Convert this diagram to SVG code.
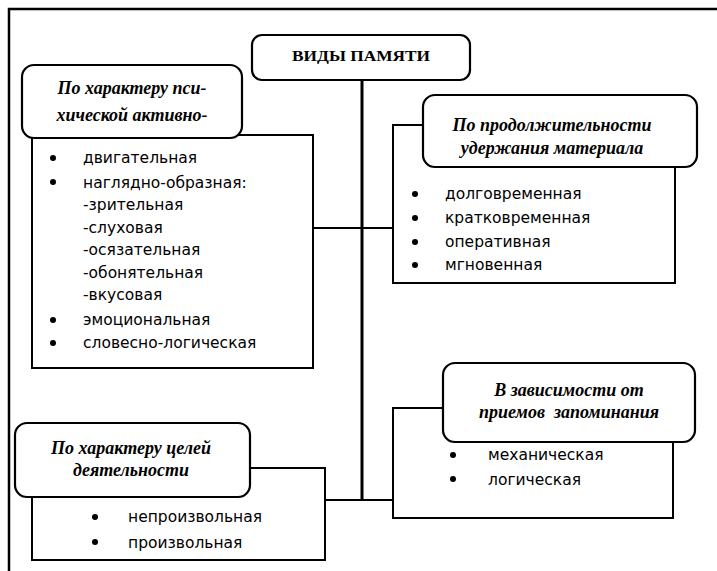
<svg xmlns="http://www.w3.org/2000/svg" width="717" height="571" viewBox="0 0 717 571">
<style>
.frame{stroke:#000;stroke-width:2.5;fill:none}
.rect{fill:#fff;stroke:#000;stroke-width:2}
.rbox{fill:#fff;stroke:#000;stroke-width:2.2}
.conn{stroke:#000;stroke-width:2;fill:none}
.title{font-family:"Liberation Serif",serif;font-weight:bold;font-size:14px;fill:#000}
.head{font-family:"Liberation Serif",serif;font-weight:bold;font-style:italic;font-size:18px;fill:#000;text-anchor:middle}
.item{font-family:"DejaVu Sans","Liberation Sans",sans-serif;font-size:15.5px;fill:#000}
.dot{fill:#000}
</style>
<rect width="717" height="571" fill="#fff"/>
<path class="frame" d="M9,571 V9 H717"/>
<g id="connectors">
<path class="conn" d="M362,80 V500" style="stroke-width:3"/>
<path class="conn" d="M313,228 H393"/>
<path class="conn" d="M326,500 H393"/>
</g>
<g id="root">
<rect class="rbox" x="252" y="35" width="218" height="45" rx="10"/>
<text class="title" x="361" y="61" text-anchor="middle" textLength="138" lengthAdjust="spacingAndGlyphs">ВИДЫ ПАМЯТИ</text>
</g>
<g id="activity">
<rect class="rect" x="32" y="135" width="281" height="233"/>
<rect class="rbox" x="22" y="65" width="220" height="73" rx="12"/>
<text class="head" x="132" y="94">По характеру пси-</text>
<text class="head" x="132" y="121">хической активно-</text>
<g class="dot"><circle cx="53" cy="158" r="3"/><circle cx="53" cy="182" r="3"/><circle cx="53" cy="320" r="3"/><circle cx="53" cy="343" r="3"/></g>
<text class="item" x="83" y="163">двигательная</text>
<text class="item" x="83" y="188">наглядно-образная:</text>
<text class="item" x="83" y="210">-зрительная</text>
<text class="item" x="83" y="233">-слуховая</text>
<text class="item" x="83" y="255">-осязательная</text>
<text class="item" x="83" y="278">-обонятельная</text>
<text class="item" x="83" y="300">-вкусовая</text>
<text class="item" x="83" y="325">эмоциональная</text>
<text class="item" x="83" y="348">словесно-логическая</text>
</g>
<g id="duration">
<rect class="rect" x="393" y="125" width="282" height="158"/>
<rect class="rbox" x="423" y="95" width="274" height="72" rx="12"/>
<text class="head" x="552" y="131">По продолжительности</text>
<text class="head" x="552" y="154">удержания материала</text>
<g class="dot"><circle cx="415" cy="194" r="3"/><circle cx="415" cy="218" r="3"/><circle cx="415" cy="242" r="3"/><circle cx="415" cy="265" r="3"/></g>
<text class="item" x="445" y="199">долговременная</text>
<text class="item" x="445" y="223">кратковременная</text>
<text class="item" x="445" y="247">оперативная</text>
<text class="item" x="445" y="270">мгновенная</text>
</g>
<g id="memorizing">
<rect class="rect" x="393" y="408" width="280" height="110"/>
<rect class="rbox" x="443" y="363" width="252" height="79" rx="12"/>
<text class="head" x="569" y="396">В зависимости от</text>
<text class="head" x="569" y="418" xml:space="preserve">приемов  запоминания</text>
<g class="dot"><circle cx="453" cy="455" r="3"/><circle cx="453" cy="479" r="3"/></g>
<text class="item" x="488" y="460">механическая</text>
<text class="item" x="488" y="485">логическая</text>
</g>
<g id="goals">
<rect class="rect" x="32" y="468" width="293" height="92"/>
<rect class="rbox" x="15" y="423" width="235" height="74" rx="12"/>
<text class="head" x="131" y="454">По характеру целей</text>
<text class="head" x="131" y="476">деятельности</text>
<g class="dot"><circle cx="95" cy="517" r="3"/><circle cx="95" cy="542" r="3"/></g>
<text class="item" x="128" y="522">непроизвольная</text>
<text class="item" x="128" y="548">произвольная</text>
</g>
</svg>
